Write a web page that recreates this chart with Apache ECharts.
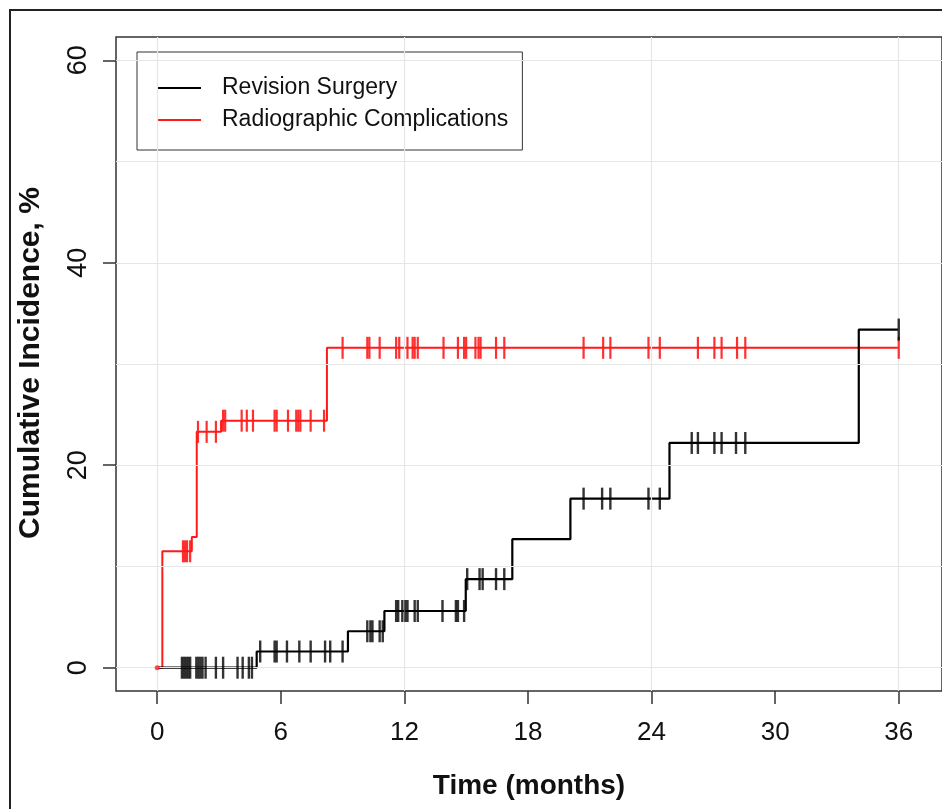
<!DOCTYPE html>
<html>
<head>
<meta charset="utf-8">
<script src="https://cdn.jsdelivr.net/npm/echarts@6/dist/echarts.min.js"></script>
<style>
  html, body { margin: 0; padding: 0; background: #fff; }
  #chart { width: 942px; height: 809px; }
</style>
</head>
<body>
<div id="chart"></div>
<script>
const xTicks = [0, 6, 12, 18, 24, 30, 36];
const yTicks = [0, 20, 40, 60];
const xGrid = [0, 12, 24, 36];
const yGrid = [0, 10, 20, 30, 40, 50, 60];

// step curves: time (months) where the level changes, level after the change (%)
const revisionTimes = [0, 4.83, 9.26, 11.03, 14.98, 17.24, 20.06, 24.87, 34.06, 36];
const revisionValues = [0, 1.6, 3.6, 5.6, 8.75, 12.7, 16.7, 22.2, 33.4, 33.4];
const radioTimes = [0, 0.25, 1.68, 1.92, 3.1, 8.24, 36];
const radioValues = [0, 11.5, 12.9, 23.3, 24.4, 31.6, 31.6];

// censoring marks (months)
const revisionCensor = [1.2, 1.3, 1.4, 1.5, 1.6, 1.9, 2.0, 2.1, 2.2, 2.35, 2.85, 3.2, 3.9, 4.15, 4.45, 4.6,
  5.0, 5.7, 5.8, 6.3, 6.9, 7.45, 8.15, 8.4, 9.0, 10.2, 10.35, 10.45, 10.8, 10.95,
  11.6, 11.7, 11.9, 12.05, 12.15, 12.5, 12.65, 13.85, 14.5, 14.6, 14.9, 15.05, 15.65, 15.8, 16.45, 16.85,
  20.7, 21.6, 22.0, 23.85, 24.4, 25.95, 26.25, 27.05, 27.4, 28.1, 28.55, 36];
const radioCensor = [1.25, 1.35, 1.45, 1.6, 1.98, 2.4, 2.85, 3.2, 3.3, 4.1, 4.35, 4.65, 5.7, 5.8, 6.35,
  6.75, 6.85, 6.95, 7.45, 8.1, 9.0, 10.2, 10.3, 10.8, 11.6, 11.75, 12.15, 12.4, 12.5, 12.65, 13.9,
  14.6, 14.9, 15.0, 15.45, 15.6, 15.7, 16.45, 16.85, 20.7, 21.65, 22.0, 23.85, 24.4, 26.25, 27.05,
  27.4, 28.15, 28.55, 36];

const BLACK = '#000000';
const RED = '#ff1a1a';
const font = '"Liberation Sans", Arial, sans-serif';

const levelAt = (times, values, t) => {
  let v = values[0];
  times.forEach((tt, i) => {
    if (tt <= t) v = values[i];
  });
  return v;
};

const toPairs = (xs, ys) => xs.map((x, i) => [x, ys[i]]);
const censorPairs = (marks, times, values) => marks.map((t) => [t, levelAt(times, values, t)]);

const chart = echarts.init(document.getElementById('chart'), null, { renderer: 'canvas' });

chart.setOption({
  animation: false,
  backgroundColor: '#fff',
  grid: {
    left: 116,
    top: 37,
    right: -2,
    bottom: 118,
    show: true,
    borderColor: '#333',
    borderWidth: 1.5,
    backgroundColor: 'transparent',
  },
  xAxis: {
    type: 'value',
    min: -2,
    max: 38.1,
    axisLine: { show: false, onZero: false },
    splitLine: { show: false },
    axisTick: {
      show: true,
      customValues: xTicks,
      length: 13,
      lineStyle: { color: '#333', width: 1.5 },
    },
    axisLabel: {
      customValues: xTicks,
      margin: 29,
      fontSize: 26,
      fontFamily: font,
      color: '#111',
    },
  },
  yAxis: {
    type: 'value',
    min: -2.3,
    max: 62.3,
    axisLine: { show: false, onZero: false },
    splitLine: { show: false },
    axisTick: {
      show: true,
      customValues: yTicks,
      length: 13,
      lineStyle: { color: '#333', width: 1.5 },
    },
    axisLabel: {
      customValues: yTicks,
      rotate: 90,
      margin: 24,
      fontSize: 27,
      fontFamily: font,
      color: '#111',
    },
  },
  legend: {
    data: ['Revision Surgery', 'Radiographic Complications'],
    orient: 'vertical',
    left: 137,
    top: 52,
    padding: [23, 14, 17, 20],
    icon: 'rect',
    itemWidth: 44,
    itemHeight: 2.2,
    itemGap: 6,
    borderColor: '#333',
    borderWidth: 1,
    backgroundColor: '#fff',
    textStyle: {
      fontSize: 23,
      fontFamily: font,
      color: '#111',
      lineHeight: 26,
      padding: [0, 0, 0, 16],
    },
  },
  graphic: [
    {
      type: 'rect',
      silent: true,
      z: -10,
      shape: { x: 10, y: 10, width: 1100, height: 1000 },
      style: { fill: 'none', stroke: '#222', lineWidth: 2 },
    },
    {
      type: 'text',
      x: 529,
      y: 786,
      style: {
        text: 'Time (months)',
        font: 'bold 28px ' + font,
        fill: '#111',
        align: 'center',
        verticalAlign: 'middle',
      },
    },
    {
      type: 'text',
      x: 31,
      y: 363,
      rotation: Math.PI / 2,
      style: {
        text: 'Cumulative Incidence, %',
        font: 'bold 30px ' + font,
        fill: '#111',
        align: 'center',
        verticalAlign: 'middle',
      },
    },
  ],
  series: [
    {
      name: 'gridlines',
      type: 'line',
      data: [],
      z: 1,
      markLine: {
        silent: true,
        symbol: 'none',
        label: { show: false },
        lineStyle: { color: '#e6e6e6', width: 1.2, type: 'solid' },
        data: [
          ...xGrid.map((x) => ({ xAxis: x })),
          ...yGrid.map((y) => ({ yAxis: y })),
        ],
      },
    },
    {
      name: 'Radiographic Complications',
      type: 'line',
      step: 'end',
      symbol: 'none',
      z: 3,
      data: toPairs(radioTimes, radioValues),
      lineStyle: { color: RED, width: 2 },
      itemStyle: { color: RED },
    },
    {
      name: 'Revision Surgery',
      type: 'line',
      step: 'end',
      symbol: 'none',
      z: 4,
      data: toPairs(revisionTimes, revisionValues),
      lineStyle: { color: BLACK, width: 2.2 },
      itemStyle: { color: BLACK },
    },
    {
      name: 'radioCensor',
      type: 'scatter',
      symbol: 'rect',
      symbolSize: [2.2, 22],
      z: 5,
      data: censorPairs(radioCensor, radioTimes, radioValues),
      itemStyle: { color: RED, opacity: 0.9 },
    },
    {
      name: 'revisionCensor',
      type: 'scatter',
      symbol: 'rect',
      symbolSize: [2.4, 22],
      z: 6,
      data: censorPairs(revisionCensor, revisionTimes, revisionValues),
      itemStyle: { color: BLACK },
    },
    {
      name: 'origin',
      type: 'scatter',
      symbol: 'circle',
      symbolSize: 5,
      z: 7,
      data: [[radioTimes[0], radioValues[0]]],
      itemStyle: { color: RED },
    },
  ],
});
</script>
</body>
</html>
